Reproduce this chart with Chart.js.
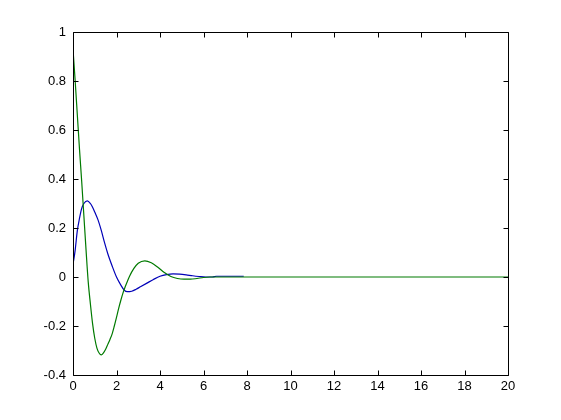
<!DOCTYPE html>
<html>
<head>
<meta charset="utf-8">
<script src="https://cdn.jsdelivr.net/npm/chart.js@4.4.1/dist/chart.umd.min.js"></script>
<style>
html,body{margin:0;padding:0;background:#fff;}
#wrap{width:561px;height:420px;}
</style>
</head>
<body>
<div id="wrap"><canvas id="c" width="561" height="420"></canvas></div>
<script>
// ---- data ----
const tBlue = [0, 0.1, 0.2, 0.3, 0.4, 0.5, 0.66, 0.8, 0.9, 1.0, 1.15, 1.3, 1.45, 1.6, 1.8, 2.0, 2.2, 2.35, 2.5, 2.7, 2.9, 3.1, 3.4, 3.7, 4.0, 4.3, 4.6, 4.9, 5.2, 5.5, 5.8, 6.1, 6.4, 6.6, 7.0, 7.5, 7.85];
const yBlue = [0.05, 0.11, 0.19, 0.24, 0.28, 0.30, 0.311, 0.30, 0.285, 0.265, 0.233, 0.19, 0.14, 0.095, 0.045, 0.0, -0.033, -0.053, -0.06, -0.058, -0.05, -0.04, -0.025, -0.01, 0.003, 0.01, 0.013, 0.012, 0.009, 0.005, 0.002, 0.0, 0.0, 0.003, 0.003, 0.003, 0.003];
const tGreen = [0, 0.1, 0.2, 0.3, 0.4, 0.5, 0.6, 0.7, 0.8, 0.9, 1.0, 1.1, 1.2, 1.3, 1.4, 1.5, 1.6, 1.7, 1.8, 1.9, 2.0, 2.1, 2.2, 2.3, 2.4, 2.5, 2.6, 2.8, 3.0, 3.3, 3.6, 3.9, 4.2, 4.5, 4.8, 5.1, 5.4, 5.7, 6.0, 6.3, 10, 15, 20];
const yGreen = [0.93, 0.80, 0.66, 0.52, 0.39, 0.25, 0.11, -0.02, -0.11, -0.19, -0.25, -0.29, -0.31, -0.318, -0.31, -0.295, -0.275, -0.255, -0.232, -0.2, -0.165, -0.128, -0.095, -0.065, -0.04, -0.018, 0.003, 0.035, 0.056, 0.066, 0.058, 0.04, 0.018, 0.002, -0.006, -0.009, -0.009, -0.006, -0.002, 0, 0, 0, 0];
const xTickLabels = ['0','2','4','6','8','10','12','14','16','18','20'];
const yTickLabels = ['-0.4','-0.2','0','0.2','0.4','0.6','0.8','1'];

const toPts = (xs, ys) => xs.map((x, i) => ({x: x, y: ys[i]}));

const boxTicks = {
  id: 'boxTicks',
  afterDraw(chart) {
    const ctx = chart.ctx, a = chart.chartArea;
    const xs = chart.scales.x, ys = chart.scales.y;
    ctx.save();
    ctx.strokeStyle = '#000';
    ctx.lineWidth = 1;
    ctx.beginPath();
    const L = Math.round(a.left) + 0.5, R = Math.round(a.right) + 0.5;
    const T = Math.round(a.top) + 0.5, B = Math.round(a.bottom) + 0.5;
    ctx.rect(L, T, R - L, B - T);
    const len = 5;
    xs.ticks.forEach(t => {
      const px = Math.round(xs.getPixelForValue(t.value)) + 0.5;
      ctx.moveTo(px, B); ctx.lineTo(px, B - len);
      ctx.moveTo(px, T); ctx.lineTo(px, T + len);
    });
    ys.ticks.forEach(t => {
      const py = Math.round(ys.getPixelForValue(t.value)) + 0.5;
      ctx.moveTo(L, py); ctx.lineTo(L + len, py);
      ctx.moveTo(R, py); ctx.lineTo(R - len, py);
    });
    ctx.stroke();
    ctx.restore();
  }
};

new Chart(document.getElementById('c'), {
  type: 'line',
  data: {
    datasets: [
      {data: toPts(tGreen, yGreen), borderColor: '#007a00', borderWidth: 1.2, pointRadius: 0, cubicInterpolationMode: 'monotone', fill: false},
      {data: toPts(tBlue, yBlue), borderColor: '#0000b8', borderWidth: 1.2, pointRadius: 0, cubicInterpolationMode: 'monotone', fill: false}
    ]
  },
  options: {
    responsive: false,
    animation: false,
    layout: {padding: {left: 0, top: 32, right: 53, bottom: 0}},
    plugins: {legend: {display: false}, tooltip: {enabled: false}},
    scales: {
      x: {
        type: 'linear', min: 0, max: 20,
        grid: {display: false, drawTicks: false},
        border: {display: false},
        afterFit(s) { s.height = 45; },
        ticks: {stepSize: 2, padding: 4, color: '#000', maxRotation: 0,
          font: {family: 'Liberation Sans', size: 13},
          callback: (v, i) => xTickLabels[i]}
      },
      y: {
        type: 'linear', min: -0.4, max: 1,
        grid: {display: false, drawTicks: false},
        border: {display: false},
        afterFit(s) { s.width = 73; },
        ticks: {stepSize: 0.2, padding: 7, color: '#000',
          font: {family: 'Liberation Sans', size: 13},
          callback: (v, i) => yTickLabels[i]}
      }
    }
  },
  plugins: [boxTicks]
});
</script>
</body>
</html>
